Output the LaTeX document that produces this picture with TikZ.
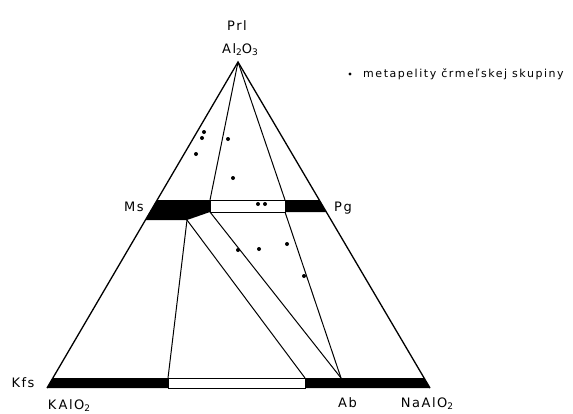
\documentclass[tikz,border=0pt]{standalone}
\usepackage{fontspec}
\setmainfont{DejaVu Sans}[LetterSpace=12]
\newcommand{\lo}[1]{\raisebox{-2pt}{\fontsize{9}{9}\selectfont #1}}

\begin{document}
\begin{tikzpicture}[x=1pt, y=-1pt,
    lbl/.style={inner sep=0pt, anchor=base, font=\fontsize{13}{15}\selectfont},
    side/.style={line width=1.3pt},
    tie/.style={line width=1pt},
    bar/.style={fill=black},
    pt/.style={circle, fill=black, inner sep=0pt, minimum size=4pt}
]
\useasboundingbox (0,0) rectangle (573,413);

% Corners
\coordinate (prl) at (238,62);
\coordinate (kfs) at (47,388);
\coordinate (nal) at (430,388);

% Ms - Pg bar
\coordinate (ms1) at (157.1,200);
\coordinate (ms2) at (145.4,220);
\coordinate (mk)  at (187,220);
\coordinate (w1)  at (210,200);
\coordinate (w2)  at (210,212);
\coordinate (w3)  at (285,200);
\coordinate (w4)  at (285,212);
\coordinate (pg1) at (319.3,200);
\coordinate (pg2) at (326.3,212);

% bottom bar
\coordinate (k1) at (52.8,378);
\coordinate (k2) at (168,378);
\coordinate (k3) at (168,388);
\coordinate (ab1) at (305,378);
\coordinate (ab2) at (305,388);
\coordinate (n1) at (424.1,378);
\coordinate (ab) at (341,378);

% Bars
\fill[bar] (ms1) -- (w1) -- (w2) -- (mk) -- (ms2) -- cycle;
\draw[tie] (w1) rectangle (w4);
\fill[bar] (w3) -- (pg1) -- (pg2) -- (w4) -- cycle;
\fill[bar] (kfs) -- (k1) -- (k2) -- (k3) -- cycle;
\draw[tie] (k2) rectangle (ab2);
\fill[bar] (ab1) -- (n1) -- (nal) -- (ab2) -- cycle;

% Triangle
\draw[side] (kfs) -- (prl) -- (nal);

% Tie lines
\draw[tie] (prl) -- (w1);
\draw[tie] (prl) -- (w3);
\draw[tie] (mk) -- (k2);
\draw[tie] (mk) -- (ab1);
\draw[tie] (w2) -- (ab);
\draw[tie] (w4) -- (ab);

% Samples
\node[pt] (s1) at (204,132) {};
\node[pt] (s2) at (202,138) {};
\node[pt] (s3) at (196,154) {};
\node[pt] (s4) at (228,139) {};
\node[pt] (s5) at (233,178) {};
\node[pt] (s6) at (258,204) {};
\node[pt] (s7) at (265,204) {};
\node[pt] (s8) at (238,250) {};
\node[pt] (s9) at (259,249) {};
\node[pt] (s10) at (287,244) {};
\node[pt] (s11) at (304,276) {};

% Labels
\node[lbl] (tprl) at (237,30) {Prl};
\node[lbl] (tal) at (240,53) {Al\lo{2}O\lo{3}};
\node[lbl] (tms) at (134,211.5) {Ms};
\node[lbl] (tpg) at (343,211) {Pg};
\node[lbl] (tkfs) at (23,387) {Kfs};
\node[lbl] (tkal) at (69,409) {K\,AlO\lo{2}};
\node[lbl] (tab) at (347.5,407) {Ab};
\node[lbl] (tnal) at (427,407) {NaAlO\lo{2}};

% Legend
\node[pt, minimum size=3.4pt] (key) at (350,74) {};
\node[lbl, anchor=base west, font=\fontsize{11}{13}\selectfont\addfontfeature{LetterSpace=14}] (tkey) at (363,77) {metapelity črmeľskej skupiny};

\end{tikzpicture}
\end{document}
